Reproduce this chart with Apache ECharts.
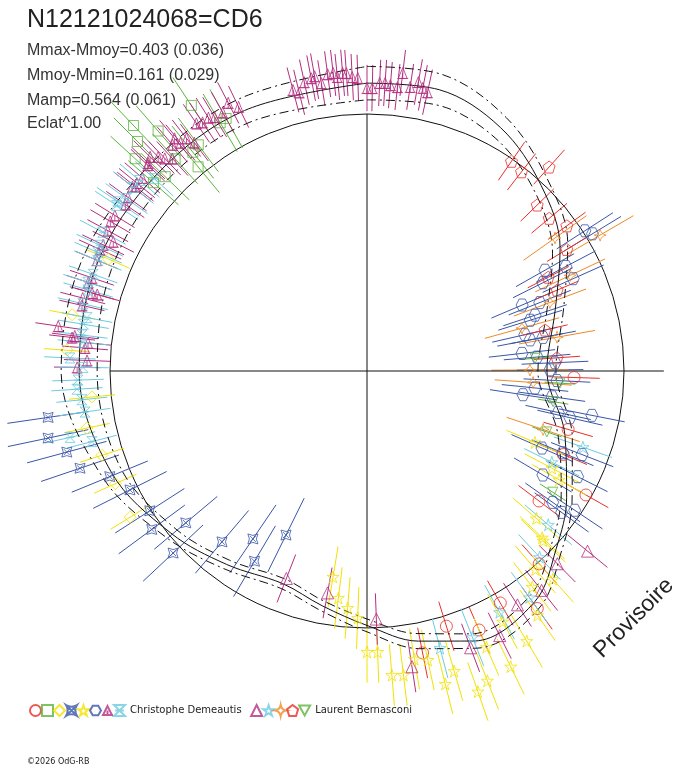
<!DOCTYPE html>
<html>
<head>
<meta charset="utf-8">
<script src="https://cdn.jsdelivr.net/npm/echarts@6/dist/echarts.min.js"></script>
<style>html,body{margin:0;padding:0;background:#fff}#chart{width:688px;height:768px}</style>
</head>
<body>
<div id="chart"></div>
<script>
// phase: 0 at top, turning clockwise; radius: reference circle = 1
var lcPhase = [0, 0.04, 0.08, 0.12, 0.16, 0.20, 0.25, 0.30, 0.34, 0.37, 0.40, 0.44, 0.47, 0.50, 0.53, 0.56, 0.60, 0.64, 0.69, 0.75, 0.81, 0.87, 0.93, 1.0];
var lcMid = [1.12, 1.13, 1.08, 0.99, 0.89, 0.77, 0.70, 0.81, 0.92, 1.01, 1.11, 1.13, 1.07, 0.99, 0.93, 0.89, 0.93, 0.99, 1.07, 1.12, 1.13, 1.12, 1.12, 1.12];
var lcHigh = [1.185, 1.19, 1.125, 1.025, 0.925, 0.805, 0.735, 0.84, 0.945, 1.035, 1.14, 1.16, 1.10, 1.015, 0.95, 0.91, 0.95, 1.015, 1.11, 1.19, 1.19, 1.165, 1.17, 1.185];
var lcLow = [1.055, 1.07, 1.035, 0.955, 0.855, 0.735, 0.665, 0.78, 0.895, 0.985, 1.08, 1.10, 1.04, 0.965, 0.91, 0.87, 0.91, 0.965, 1.03, 1.05, 1.07, 1.075, 1.07, 1.055];

// Christophe Demeautis
var cdCirclePhase = [0.452, 0.435, 0.417, 0.384, 0.401, 0.469, 0.255, 0.295, 0.314, 0.332, 0.353];
var cdCircleRad = [1.040, 1.098, 1.041, 1.006, 1.137, 1.118, 0.806, 0.815, 0.830, 0.979, 0.839];
var cdSquarePhase = [0.907, 0.879, 0.886, 0.875, 0.868, 0.898, 0.893, 0.890, 0.915, 0.919, 0.872, 0.865, 0.883];
var cdSquareRad = [1.239, 1.318, 1.238, 1.263, 1.223, 1.098, 1.088, 1.031, 1.122, 1.125, 1.090, 1.108, 1.113];
var cdDiamondPhase = [0.815, 0.780, 0.761, 0.735, 0.718, 0.701, 0.683, 0.662];
var cdDiamondRad = [1.096, 1.168, 1.170, 1.075, 1.112, 1.082, 1.073, 1.083];
var cdCrossPhase = [0.727, 0.717, 0.708, 0.698, 0.688, 0.676, 0.659, 0.649, 0.630, 0.639, 0.612, 0.595, 0.585, 0.573];
var cdCrossRad = [1.254, 1.268, 1.210, 1.179, 1.082, 1.032, 1.005, 1.040, 1.035, 0.920, 0.872, 0.790, 0.860, 0.712];
var cdStarPhase = [0.526, 0.520, 0.513, 0.506, 0.500, 0.494, 0.487, 0.481, 0.474, 0.467, 0.461, 0.455, 0.447, 0.441, 0.435, 0.428, 0.415, 0.421, 0.403, 0.384, 0.388, 0.396, 0.314, 0.327, 0.332, 0.364, 0.371, 0.372];
var cdStarRad = [0.812, 0.890, 0.925, 0.962, 1.093, 1.094, 1.187, 1.191, 1.136, 1.149, 1.255, 1.216, 1.320, 1.293, 1.171, 1.279, 1.221, 1.109, 1.159, 1.086, 1.013, 1.058, 0.710, 0.813, 0.859, 0.874, 0.941, 0.952];
var cdHexPhase = [0.159, 0.163, 0.168, 0.173, 0.183, 0.176, 0.186, 0.190, 0.199, 0.202, 0.214, 0.220, 0.232, 0.220, 0.237, 0.243, 0.249, 0.258, 0.274, 0.266, 0.272, 0.284, 0.286, 0.281, 0.316, 0.313, 0.309, 0.335, 0.324, 0.348, 0.350, 0.344];
var cdHexRad = [1.008, 1.027, 0.796, 0.874, 0.879, 0.766, 0.656, 0.723, 0.689, 0.665, 0.630, 0.646, 0.607, 0.697, 0.664, 0.732, 0.712, 0.740, 0.614, 0.657, 0.727, 0.761, 0.810, 0.892, 0.744, 0.825, 0.898, 0.795, 0.917, 0.885, 0.936, 0.973];
var cdTripodPhase = [0.959, 0.962, 0.966, 0.970, 0.972, 0.975, 0.979, 0.982, 0.984, 0.987, 0.989, 0.992, 0.995, 0.000, 0.003, 0.007, 0.010, 0.013, 0.017, 0.019, 0.024, 0.028, 0.031, 0.034,
  0.924, 0.928, 0.919, 0.914, 0.911, 0.907, 0.904, 0.895, 0.897, 0.891, 0.890, 0.887, 0.879, 0.882, 0.877, 0.874, 0.871, 0.863, 0.859, 0.856, 0.850, 0.846,
  0.870, 0.857, 0.838, 0.834, 0.829, 0.825, 0.821, 0.818, 0.812, 0.802, 0.799, 0.794, 0.794, 0.790, 0.786, 0.773, 0.769, 0.766, 0.763, 0.768, 0.756, 0.752];
var cdTripodRad = [1.131, 1.116, 1.150, 1.160, 1.165, 1.134, 1.165, 1.167, 1.150, 1.164, 1.162, 1.145, 1.141, 1.101, 1.101, 1.122, 1.123, 1.116, 1.111, 1.168, 1.118, 1.142, 1.123, 1.110,
  1.175, 1.143, 1.152, 1.152, 1.163, 1.160, 1.170, 1.146, 1.114, 1.147, 1.175, 1.161, 1.142, 1.121, 1.164, 1.186, 1.175, 1.153, 1.156, 1.161, 1.150, 1.142,
  1.170, 1.152, 1.153, 1.156, 1.147, 1.108, 1.138, 1.141, 1.136, 1.130, 1.138, 1.112, 1.091, 1.142, 1.138, 1.214, 1.145, 1.091, 1.101, 1.155, 1.090, 1.128];
var cdHourPhase = [0.861, 0.856, 0.849, 0.843, 0.827, 0.820, 0.816, 0.812, 0.804, 0.799, 0.795, 0.787, 0.780, 0.776, 0.770, 0.766, 0.757, 0.752, 0.745, 0.740, 0.734, 0.727, 0.715, 0.710, 0.867, 0.845];
var cdHourRad = [1.154, 1.156, 1.151, 1.168, 1.161, 1.149, 1.143, 1.132, 1.130, 1.140, 1.130, 1.136, 1.109, 1.118, 1.118, 1.110, 1.157, 1.105, 1.125, 1.131, 1.115, 1.109, 1.184, 1.105, 1.116, 1.171];

// Laurent Bernasconi
var lbTrianglePhase = [0.559, 0.528, 0.494, 0.476, 0.443, 0.426, 0.409, 0.393, 0.376, 0.359];
var lbTriangleRad = [0.866, 0.877, 0.966, 1.164, 1.150, 1.152, 1.082, 1.091, 1.054, 1.108];
var lbStarPhase = [0.459, 0.440, 0.420, 0.401, 0.381, 0.304, 0.323, 0.362];
var lbStarRad = [1.115, 1.114, 1.071, 1.084, 0.988, 0.891, 0.802, 0.925];
var lbSparkPhase = [0.166, 0.152, 0.180, 0.193, 0.207, 0.222, 0.249, 0.261, 0.301];
var lbSparkRad = [1.050, 0.896, 0.874, 0.760, 0.626, 0.751, 0.634, 0.648, 0.722];
var lbPentaPhase = [0.096, 0.105, 0.116, 0.127, 0.139, 0.150, 0.163, 0.174, 0.186, 0.214, 0.239];
var lbPentaRad = [0.991, 0.981, 1.064, 0.925, 0.925, 0.961, 0.910, 0.794, 0.804, 0.711, 0.741];
var lbInvPhase = [0.238, 0.260, 0.276, 0.302, 0.342];
var lbInvRad = [0.656, 0.752, 0.734, 0.739, 0.863];

var pStar = 'path://M5 0L6.2 3.6L10 3.6L6.9 5.9L8.1 9.5L5 7.3L1.9 9.5L3.1 5.9L0 3.6L3.8 3.6Z';
var groups = [
  // name, phases, radii, symbol, colour, size, half error bar
  ['CD1', cdCirclePhase, cdCircleRad, 'circle', '#e8302a', 12, 0.10],
  ['CD2', cdSquarePhase, cdSquareRad, 'rect', '#5cb43c', 10, 0.13],
  ['CD3', cdDiamondPhase, cdDiamondRad, 'diamond', '#f2e200', 12, 0.09],
  ['CD4', cdCrossPhase, cdCrossRad, 'path://M0 0Q5 3 10 0Q7 5 10 10Q5 7 0 10Q3 5 0 0ZM2 2L8 8M8 2L2 8', '#3a55a8', 10, 0.16],
  ['CD5', cdStarPhase, cdStarRad, pStar, '#f2e200', 12, 0.12],
  ['CD6', cdHexPhase, cdHexRad, 'path://M2.5 0L7.5 0L10 4.3L7.5 8.6L2.5 8.6L0 4.3Z', '#3a55a8', 12, 0.13],
  ['CD7', cdTripodPhase, cdTripodRad, 'path://M5 0L9 8L1 8ZM0 8L10 8M5 8L5 4', '#b52e80', 11, 0.09],
  ['CD8', cdHourPhase, cdHourRad, 'path://M0 0L10 0L5 5L10 10L0 10L5 5ZM1 5L9 5', '#6ccbe0', 10, 0.10],
  ['LB1', lbTrianglePhase, lbTriangleRad, 'triangle', '#b52e80', 12, 0.10],
  ['LB2', lbStarPhase, lbStarRad, pStar, '#6ccbe0', 12, 0.12],
  ['LB3', lbSparkPhase, lbSparkRad, 'path://M5 0Q5.8 4.2 10 5Q5.8 5.8 5 10Q4.2 5.8 0 5Q4.2 4.2 5 0Z', '#f08a24', 12, 0.15],
  ['LB4', lbPentaPhase, lbPentaRad, 'path://M5 0L10 3.8L8.1 10L1.9 10L0 3.8Z', '#e8302a', 12, 0.09],
  ['LB5', lbInvPhase, lbInvRad, 'path://M0 0L10 0L5 9Z', '#5cb43c', 10, 0.06]
];

function pairs(phases, radii) {
  return phases.map(function (p, i) { return [radii[i], p]; });
}

var series = [];
groups.forEach(function (g) {
  var data = pairs(g[1], g[2]);
  var col = g[4], err = g[6];
  series.push({
    type: 'custom', coordinateSystem: 'polar', silent: true, z: 1,
    data: data,
    renderItem: function (params, api) {
      var r = api.value(0), a = api.value(1);
      var p1 = api.coord([r - err, a]);
      var p2 = api.coord([r + err, a]);
      return { type: 'line', shape: { x1: p1[0], y1: p1[1], x2: p2[0], y2: p2[1] }, style: { stroke: col, lineWidth: 1 } };
    }
  });
  series.push({
    type: 'scatter', name: g[0], coordinateSystem: 'polar', z: 3,
    data: data, symbol: g[3], symbolSize: g[5],
    itemStyle: { color: 'rgba(0,0,0,0)', borderColor: col, borderWidth: 1 }
  });
});

function curve(vals, dashed) {
  return {
    type: 'line', coordinateSystem: 'polar', silent: true, z: 2,
    data: pairs(lcPhase, vals), smooth: 0.35, symbol: 'none',
    lineStyle: { color: '#111', width: 1, type: dashed ? [9, 4, 2, 4] : 'solid' }
  };
}
series.push(curve(lcMid, false), curve(lcHigh, true), curve(lcLow, true));
// cross hairs
series.push({
  type: 'line', coordinateSystem: 'polar', silent: true, symbol: 'none', z: 2,
  data: [[1.0, 0.75], [1.155, 0.25]], lineStyle: { color: '#111', width: 1 }
});
series.push({
  type: 'line', coordinateSystem: 'polar', silent: true, symbol: 'none', z: 2,
  data: [[1.0, 0], [1.0, 0.5]], lineStyle: { color: '#111', width: 1 }
});

var chart = echarts.init(document.getElementById('chart'));
chart.setOption({
  animation: false,
  backgroundColor: '#fff',
  polar: { center: [367, 371], radius: 771 },
  angleAxis: {
    type: 'value', min: 0, max: 1, startAngle: 90, clockwise: true,
    axisLine: { show: false }, axisTick: { show: false }, axisLabel: { show: false }, splitLine: { show: false }
  },
  radiusAxis: {
    type: 'value', min: 0, max: 3, interval: 1,
    axisLine: { show: false }, axisTick: { show: false }, axisLabel: { show: false },
    splitLine: { show: true, lineStyle: { width: 1, color: ['rgba(0,0,0,0)', '#111', 'rgba(0,0,0,0)', 'rgba(0,0,0,0)'] } }
  },
  legend: {
    left: 24, top: 699, itemWidth: 11, itemHeight: 11, itemGap: -1, selectedMode: false,
    data: groups.map(function (g) { return g[0]; }),
    formatter: function (name) {
      if (name === 'CD8') return 'Christophe Demeautis   ';
      if (name === 'LB5') return 'Laurent Bernasconi';
      return '';
    },
    textStyle: { fontSize: 10, fontFamily: 'DejaVu Sans', color: '#222' }
  },
  graphic: [
    { type: 'text', left: 27, top: 8, style: { text: 'N12121024068=CD6', font: '25px "Liberation Sans"', fill: '#222' } },
    { type: 'text', left: 27, top: 43, style: { text: 'Mmax-Mmoy=0.403 (0.036)', font: '16px "Liberation Sans"', fill: '#333' } },
    { type: 'text', left: 27, top: 68, style: { text: 'Mmoy-Mmin=0.161 (0.029)', font: '16px "Liberation Sans"', fill: '#333' } },
    { type: 'text', left: 27, top: 93, style: { text: 'Mamp=0.564 (0.061)', font: '16px "Liberation Sans"', fill: '#333' } },
    { type: 'text', left: 27, top: 116, style: { text: 'Eclat^1.00', font: '16px "Liberation Sans"', fill: '#333' } },
    { type: 'text', x: 634, y: 618, rotation: Math.PI / 4, style: { x: 0, y: 0, text: 'Provisoire', align: 'center', verticalAlign: 'middle', textAlign: 'center', textVerticalAlign: 'middle', font: '23px "Liberation Sans"', fill: '#222' } },
    { type: 'text', left: 27, top: 758, style: { text: '©2026 OdG-RB', font: '8px "DejaVu Sans"', fill: '#222' } }
  ],
  series: series
});
</script>
</body>
</html>
